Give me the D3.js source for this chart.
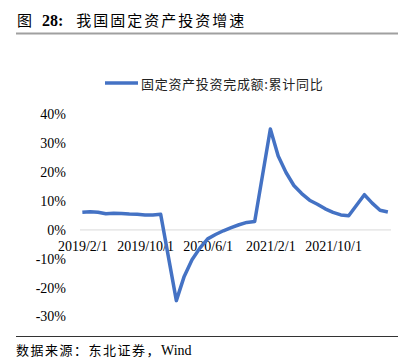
<!DOCTYPE html>
<html>
<head>
<meta charset="utf-8">
<script src="https://cdn.jsdelivr.net/npm/d3@7"></script>
<style>
  body { margin: 0; background: #fff; }
  svg { display: block; }
  .cjk { font-family: "Noto Sans CJK SC", sans-serif; }
  .num { font-family: "Liberation Serif", "Times New Roman", serif; }
</style>
</head>
<body>
<svg width="417" height="364"></svg>
<script>
// monthly cumulative YoY of fixed asset investment (Jan merged into Feb)
var months = [
  "2019/2", "2019/3", "2019/4", "2019/5", "2019/6", "2019/7", "2019/8", "2019/9", "2019/10", "2019/11", "2019/12",
  "2020/2", "2020/3", "2020/4", "2020/5", "2020/6", "2020/7", "2020/8", "2020/9", "2020/10", "2020/11", "2020/12",
  "2021/2", "2021/3", "2021/4", "2021/5", "2021/6", "2021/7", "2021/8", "2021/9", "2021/10", "2021/11", "2021/12",
  "2022/2", "2022/3", "2022/4", "2022/5"
];
var values = [
  6.1, 6.3, 6.1, 5.6, 5.8, 5.7, 5.5, 5.4, 5.2, 5.2, 5.4,
  -24.5, -16.1, -10.3, -6.3, -3.1, -1.6, -0.3, 0.8, 1.8, 2.6, 2.9,
  35.0, 25.6, 19.9, 15.4, 12.6, 10.3, 8.9, 7.3, 6.1, 5.2, 4.9,
  12.2, 9.3, 6.8, 6.2
];
var xTickLabels = ["2019/2/1", "2019/10/1", "2020/6/1", "2021/2/1", "2021/10/1"];
var yTicks = [-30, -20, -10, 0, 10, 20, 30, 40];
var seriesName = "固定资产投资完成额:累计同比";

// month index counted from 2019/2
function monthIndex(s) {
  var p = s.split("/");
  return (+p[0] - 2019) * 12 + (+p[1] - 2);
}

var data = months.map(function(m, i) {
  return { t: monthIndex(m), v: values[i] };
});

var svg = d3.select("svg");
var color = "#4472C4";

var x = d3.scaleLinear().domain([-0.3, 39.4]).range([80, 391]);
var y = d3.scaleLinear().domain([-30, 40]).range([316.5, 114.5]);

// title
var title = svg.append("text").attr("x", 17).attr("y", 26).attr("font-size", 15);
title.append("tspan").attr("class", "cjk").text("图");
title.append("tspan").attr("class", "num").attr("dx", 10).attr("font-weight", "bold").attr("font-size", 16).text("28:");
title.append("tspan").attr("class", "cjk").attr("dx", 13).attr("letter-spacing", 2).text("我国固定资产投资增速");

svg.append("line")
  .attr("x1", 16).attr("x2", 398).attr("y1", 33.5).attr("y2", 33.5)
  .attr("stroke", "#a0a0a0").attr("stroke-width", 2);

// legend
svg.append("line")
  .attr("x1", 105).attr("x2", 138).attr("y1", 83).attr("y2", 83)
  .attr("stroke", color).attr("stroke-width", 3.5);
svg.append("text")
  .attr("class", "cjk")
  .attr("x", 141).attr("y", 83)
  .attr("dominant-baseline", "central")
  .attr("font-size", 13)
  .attr("letter-spacing", 0.7)
  .attr("fill", "#222")
  .text(seriesName);

// y axis labels
var yAxis = svg.append("g")
  .attr("class", "num")
  .attr("transform", "translate(80,0)")
  .call(d3.axisLeft(y).tickValues(yTicks).tickSize(0).tickPadding(14)
    .tickFormat(function(d) { return d + "%"; }));
yAxis.select(".domain").remove();
yAxis.selectAll("text").attr("font-size", 14).attr("fill", "#000")
  .attr("font-family", "Liberation Serif, serif");

// zero line + x labels
svg.append("line")
  .attr("x1", 80).attr("x2", 391).attr("y1", y(0)).attr("y2", y(0))
  .attr("stroke", "#d9d9d9").attr("stroke-width", 1);

var xAxis = svg.append("g")
  .attr("transform", "translate(0," + y(0) + ")")
  .call(d3.axisBottom(x)
    .tickValues(xTickLabels.map(function(s) { return monthIndex(s); }))
    .tickSize(0)
    .tickFormat(function(d, i) { return xTickLabels[i]; }));
xAxis.select(".domain").remove();
xAxis.selectAll("text")
  .attr("y", 21).attr("dy", 0)
  .attr("font-size", 14).attr("fill", "#000")
  .attr("font-family", "Liberation Serif, serif");

// series line
var line = d3.line()
  .x(function(d) { return x(d.t); })
  .y(function(d) { return y(d.v); });

svg.append("path")
  .datum(data)
  .attr("d", line)
  .attr("fill", "none")
  .attr("stroke", color)
  .attr("stroke-width", 3.5)
  .attr("stroke-linejoin", "round");

// footer
svg.append("line")
  .attr("x1", 16).attr("x2", 398).attr("y1", 336.5).attr("y2", 336.5)
  .attr("stroke", "#333").attr("stroke-width", 1);

var foot = svg.append("text").attr("x", 16).attr("y", 355).attr("font-size", 13);
foot.append("tspan").attr("class", "cjk").attr("letter-spacing", 1.5).text("数据来源：东北证券，");
foot.append("tspan").attr("class", "num").attr("font-size", 14).text("Wind");
</script>
</body>
</html>
